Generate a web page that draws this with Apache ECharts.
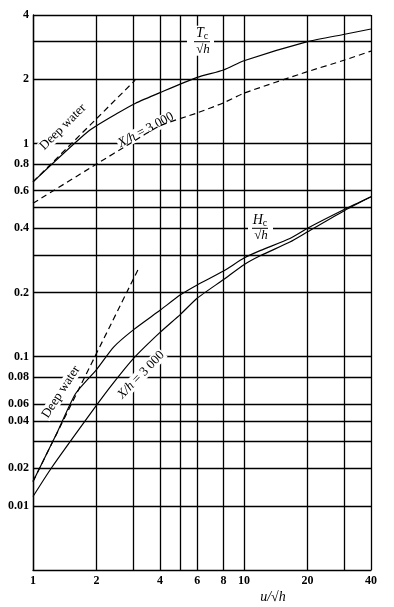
<!DOCTYPE html>
<html>
<head>
<meta charset="utf-8">
<script src="https://cdn.jsdelivr.net/npm/echarts@6/dist/echarts.min.js"></script>
<style>
html,body{margin:0;padding:0;background:#fff;}
#chart{width:394px;height:607px;}
</style>
</head>
<body>
<div id="chart"></div>
<script>
// ---- data (u/sqrt(h) vs. value) ----
const tsDeepU = [1, 3.05];
const tsDeepV = [0.66, 1.98];
const tsFullU = [1, 1.83, 2.5, 3.05, 4, 6, 8, 10, 20, 30, 40];
const tsFullV = [0.66, 1.14, 1.38, 1.54, 1.73, 2.04, 2.21, 2.44, 3.0, 3.25, 3.44];
const tsX3000U = [1, 2, 2.89, 4, 6, 8, 10, 20, 30, 40];
const tsX3000V = [0.524, 0.80, 1.0, 1.21, 1.39, 1.55, 1.72, 2.17, 2.46, 2.71];
const hcDeepU = [1, 3.14];
const hcDeepV = [0.026, 0.255];
const hcFullU = [1, 1.3, 1.59, 2, 2.41, 3, 4, 5, 6, 8, 10, 12, 16.5, 20, 30, 40];
const hcFullV = [0.026, 0.044, 0.067, 0.087, 0.111, 0.134, 0.165, 0.195, 0.217, 0.252, 0.29, 0.315, 0.358, 0.40, 0.491, 0.562];
const hcX3000U = [1, 1.22, 1.97, 2.37, 2.99, 4, 5, 6, 8, 10, 12, 16.5, 20, 30, 40];
const hcX3000V = [0.0221, 0.030, 0.058, 0.074, 0.098, 0.13, 0.158, 0.188, 0.23, 0.27, 0.298, 0.345, 0.385, 0.485, 0.562];

// ---- grid lines and tick labels ----
const xGrid = [2, 3, 4, 5, 6, 8, 10, 20, 30, 40];
const xTickValues = [1, 2, 4, 6, 8, 10, 20, 40];
const xTickLabels = ['1', '2', '4', '6', '8', '10', '20', '40'];
const yGrid = [0.02, 0.03, 0.04, 0.05, 0.06, 0.08, 0.1, 0.2, 0.3, 0.4, 0.5, 0.6, 0.8, 1, 2, 3, 4];
const yTickValues = [0.02, 0.03, 0.05, 0.06, 0.08, 0.1, 0.2, 0.4, 0.6, 0.8, 1, 2, 4];
const yTickLabels = ['0.01', '0.02', '0.04', '0.06', '0.08', '0.1', '0.2', '0.4', '0.6', '0.8', '1', '2', '4'];

const zip = (a, b) => a.map((v, i) => [v, b[i]]);
const SERIF = '"Liberation Serif", "DejaVu Serif", serif';
const tickFont = { color: '#000', fontFamily: SERIF, fontWeight: 'bold', fontSize: 12 };

const xLineVals = Array.from(new Set([...xTickValues, ...xGrid])).sort((a, b) => a - b);
const xMark = xLineVals.map(v => {
  const i = xTickValues.indexOf(v);
  return { xAxis: v, label: i >= 0 ? Object.assign({ show: true, position: 'start', distance: 5, formatter: xTickLabels[i] }, tickFont) : { show: false } };
});
const yLineVals = Array.from(new Set([...yTickValues, ...yGrid])).sort((a, b) => a - b);
const yMark = yLineVals.map(v => {
  const i = yTickValues.indexOf(v);
  return { yAxis: v, label: i >= 0 ? Object.assign({ show: true, position: 'start', distance: 4, formatter: yTickLabels[i] }, tickFont) : { show: false } };
});

function curve(name, u, v, dashed) {
  return {
    name, type: 'line', data: zip(u, v), symbol: 'none', smooth: 0.2, z: 10,
    silent: true, animation: false,
    lineStyle: { color: '#000', width: 1.2, type: dashed ? [6, 4] : 'solid' }
  };
}

const chart = echarts.init(document.getElementById('chart'), null, { renderer: 'canvas' });
chart.setOption({
  animation: false,
  backgroundColor: '#fff',
  grid: { left: 33, right: 23, top: 15, bottom: 37, containLabel: false },
  xAxis: {
    type: 'log', logBase: 10, min: 1, max: 40,
    axisLine: { show: true, lineStyle: { color: '#000', width: 1.3 } },
    axisTick: { show: false }, axisLabel: { show: false }, splitLine: { show: false }
  },
  yAxis: {
    type: 'log', logBase: 10, min: 0.01, max: 4,
    axisLine: { show: true, lineStyle: { color: '#000', width: 1.3 } },
    axisTick: { show: false }, axisLabel: { show: false }, splitLine: { show: false }
  },
  series: [
    {
      name: 'grid', type: 'line', data: [], silent: true, z: 1,
      markLine: {
        z: 1, silent: true, animation: false, symbol: ['none', 'none'],
        lineStyle: { color: '#000', width: 1.3, type: 'solid' },
        label: { show: false },
        emphasis: { disabled: true },
        data: [...xMark, ...yMark]
      }
    },
    curve('Ts deep water', tsDeepU, tsDeepV, true),
    curve('Ts', tsFullU, tsFullV, false),
    curve('Ts X/h=3000', tsX3000U, tsX3000V, true),
    curve('Hc deep water', hcDeepU, hcDeepV, true),
    curve('Hc', hcFullU, hcFullV, false),
    curve('Hc X/h=3000', hcX3000U, hcX3000V, false)
  ],
  graphic: [
    { type: 'text', x: 63, y: 127, rotation: Math.PI / 4, z: 5,
      style: { text: 'Deep water', font: '13px ' + SERIF, fill: '#000', align: 'center', verticalAlign: 'middle', backgroundColor: '#fff', padding: [0, 1] } },
    { type: 'text', x: 146, y: 130, rotation: 28 * Math.PI / 180, z: 5,
      style: { text: '{i|X/h} = 3 000', font: '13px ' + SERIF, fill: '#000', align: 'center', verticalAlign: 'middle', backgroundColor: '#fff', padding: [0, 1],
        rich: { i: { fontStyle: 'italic', fontSize: 13, fontFamily: SERIF } } } },
    { type: 'text', x: 61, y: 392, rotation: 57 * Math.PI / 180, z: 5,
      style: { text: 'Deep water', font: '13px ' + SERIF, fill: '#000', align: 'center', verticalAlign: 'middle', backgroundColor: '#fff', padding: [0, 1] } },
    { type: 'text', x: 141, y: 375, rotation: 46 * Math.PI / 180, z: 5,
      style: { text: '{i|X/h} = 3 000', font: '13px ' + SERIF, fill: '#000', align: 'center', verticalAlign: 'middle', backgroundColor: '#fff', padding: [0, 1],
        rich: { i: { fontStyle: 'italic', fontSize: 13, fontFamily: SERIF } } } },
    { type: 'group', x: 202, y: 41.7, z: 5, children: [
      { type: 'rect', shape: { x: -15, y: -16, width: 27, height: 30 }, style: { fill: '#fff' }, z: 5 },
      { type: 'text', x: 0, y: -8, z: 6, style: { text: '{t|T}{s|c}', fill: '#000', align: 'center', verticalAlign: 'middle',
        rich: { t: { fontStyle: 'italic', fontSize: 14, fontFamily: SERIF }, s: { fontSize: 10, fontFamily: SERIF, padding: [6, 0, 0, 0] } } } },
      { type: 'line', shape: { x1: -8, y1: 0, x2: 8, y2: 0 }, style: { stroke: '#000', lineWidth: 1 }, z: 6 },
      { type: 'text', x: 1, y: 7.5, z: 6, style: { text: '√{i|h}', font: '13px ' + SERIF, fill: '#000', align: 'center', verticalAlign: 'middle',
        rich: { i: { fontStyle: 'italic', fontSize: 13, fontFamily: SERIF } } } }
    ] },
    { type: 'group', x: 260, y: 228.3, z: 5, children: [
      { type: 'rect', shape: { x: -12, y: -16, width: 25, height: 29 }, style: { fill: '#fff' }, z: 5 },
      { type: 'text', x: 0, y: -8, z: 6, style: { text: '{t|H}{s|c}', fill: '#000', align: 'center', verticalAlign: 'middle',
        rich: { t: { fontStyle: 'italic', fontSize: 14, fontFamily: SERIF }, s: { fontSize: 10, fontFamily: SERIF, padding: [6, 0, 0, 0] } } } },
      { type: 'line', shape: { x1: -8, y1: 0, x2: 8, y2: 0 }, style: { stroke: '#000', lineWidth: 1 }, z: 6 },
      { type: 'text', x: 1, y: 7.5, z: 6, style: { text: '√{i|h}', font: '13px ' + SERIF, fill: '#000', align: 'center', verticalAlign: 'middle',
        rich: { i: { fontStyle: 'italic', fontSize: 13, fontFamily: SERIF } } } }
    ] },
    { type: 'text', x: 273, y: 597, z: 5,
      style: { text: 'u/√h', font: 'italic 14px ' + SERIF, fill: '#000', align: 'center', verticalAlign: 'middle' } }
  ]
});
</script>
</body>
</html>
